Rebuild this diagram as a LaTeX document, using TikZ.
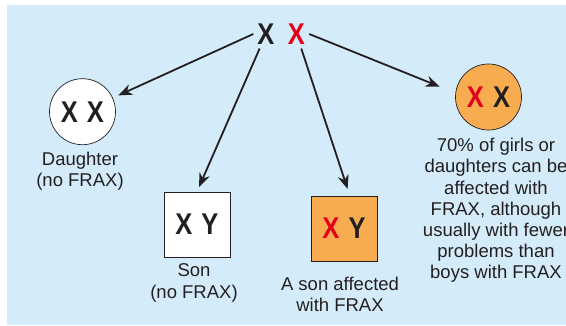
\documentclass[tikz,border=0pt]{standalone}
\usepackage{fontspec}
\setmainfont{Liberation Sans}
\newfontfamily\chromfont[FakeStretch=0.85]{Liberation Sans}
\usetikzlibrary{arrows.meta}
\definecolor{skyback}{HTML}{D4ECFA}
\definecolor{fraxorange}{HTML}{F7AD4F}
\definecolor{fraxred}{HTML}{E2001A}
\definecolor{inkgray}{HTML}{231F20}
\tikzset{every node/.style={draw=none,inner sep=0pt,text=inkgray},
  chrom/.style={font=\chromfont\bfseries\fontsize{30}{30}\selectfont},
  girl/.style={chrom,circle,draw=inkgray,line width=0.7pt,minimum size=66pt},
  boy/.style={chrom,rectangle,draw=inkgray,line width=0.7pt,minimum width=66pt,minimum height=65pt},
  caption/.style={font=\fontsize{18.5}{21.2}\selectfont,align=center},
  inherit/.style={-{Stealth[length=14pt,width=11pt]},line width=1.8pt,draw=inkgray}}
\newcommand{\bad}[1]{\textcolor{fraxred}{#1}}

\begin{document}
\begin{tikzpicture}[x=1pt,y=-1pt]
      \useasboundingbox (0,0) rectangle (566,325);
      \fill[skyback] (6.5,5) rectangle (566,325);

      \node[chrom,inner sep=4pt] (xa) at (266,34) {X};
      \node[chrom,inner sep=4pt] (xb) at (296.5,34) {\bad{X}};

      \node[girl,fill=white] (dau) at (82.5,111.7) {X\hspace{9pt}X};
      \node[boy,fill=white] (son) at (197,224.5) {X\hspace{9pt}Y};
      \node[boy,fill=fraxorange] (affson) at (344,228.5) {\bad{X}\hspace{9pt}Y};
      \node[girl,fill=fraxorange] (affdau) at (488.5,97) {\bad{X}\hspace{9pt}X};

      \node[caption] (daulabel) at (80,171.5) {Daughter\\(no FRAX)};
      \node[caption] (sonlabel) at (194,283) {Son\\(no FRAX)};
      \node[caption] (affsonlabel) at (340,294) {A son affected\\with FRAX};
      \node[caption] (affdaulabel) at (496,210.5) {70\% of girls or\\daughters can be\\affected with\\FRAX, although\\usually with fewer\\problems than\\boys with FRAX};

\foreach \a/\b/\s in {xa.west/dau/6pt,xa/son.north/5pt,xb/affson.80/7pt,xb.east/affdau.173/17pt}
  \draw[inherit,shorten >=\s] (\a) -- (\b);
    \end{tikzpicture}
\end{document}
